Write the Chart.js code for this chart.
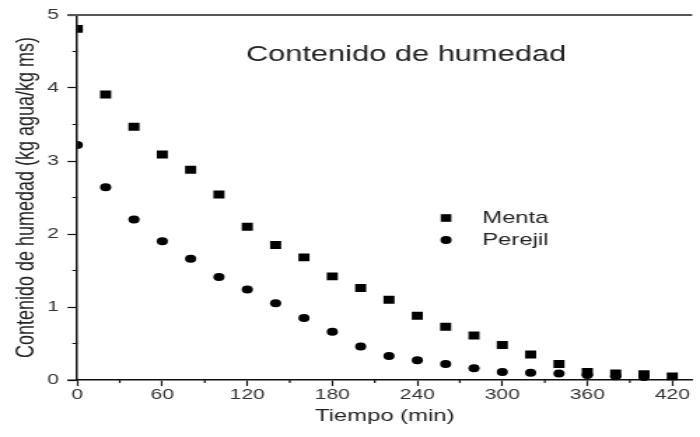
<!DOCTYPE html>
<html>
<head>
<meta charset="utf-8">
<script src="https://cdn.jsdelivr.net/npm/chart.js@4.4.1/dist/chart.umd.min.js"></script>
<style>
  html, body { margin: 0; padding: 0; background: #fff; overflow: hidden; }
  /* the original figure is stretched sideways, so draw narrow and widen */
  #wrap { width: 500px; height: 437px; transform: scaleX(1.4); transform-origin: 0 0; }
</style>
</head>
<body>
<div id="wrap"><canvas id="chart" width="500" height="437"></canvas></div>
<script>
const tiempo = [0, 20, 40, 60, 80, 100, 120, 140, 160, 180, 200, 220, 240, 260, 280, 300, 320, 340, 360, 380, 400, 420]
const menta = [4.81, 3.91, 3.47, 3.09, 2.88, 2.54, 2.10, 1.85, 1.68, 1.42, 1.26, 1.10, 0.88, 0.73, 0.61, 0.48, 0.35, 0.22, 0.11, 0.09, 0.08, 0.05]
const perejil = [3.22, 2.64, 2.20, 1.90, 1.66, 1.41, 1.24, 1.05, 0.85, 0.66, 0.46, 0.33, 0.27, 0.22, 0.16, 0.11, 0.10, 0.09, 0.07, 0.05, 0.04]
const xTicks = [0, 60, 120, 180, 240, 300, 360, 420]
const xMinor = [30, 90, 150, 210, 270, 330, 390]
const yTicks = [0, 1, 2, 3, 4, 5]
const yMinor = [0.5, 1.5, 2.5, 3.5, 4.5]

const FONT = '"Liberation Sans", Arial, sans-serif'
const INK = '#222'

// extra ticks, frame line, title and the in-plot legend
const decor = {
  id: 'decor',
  afterDraw(chart) {
    const { ctx, chartArea: a, scales: { x, y } } = chart
    ctx.save()
    ctx.strokeStyle = '#111'
    ctx.lineWidth = 1.2
    ctx.beginPath()
    xMinor.forEach(v => {
      const px = x.getPixelForValue(v)
      ctx.moveTo(px, a.bottom)
      ctx.lineTo(px, a.bottom + 3)
    })
    yMinor.forEach(v => {
      const py = y.getPixelForValue(v)
      ctx.moveTo(a.left, py)
      ctx.lineTo(a.left - 3.5, py)
    })
    // x axis runs a little past the origin
    ctx.moveTo(a.left - 7, a.bottom)
    ctx.lineTo(a.left, a.bottom)
    ctx.stroke()

    ctx.strokeStyle = '#555'
    ctx.lineWidth = 2
    ctx.beginPath()
    ctx.moveTo(a.left - 7, a.top)
    ctx.lineTo(a.right, a.top)
    ctx.stroke()

    ctx.fillStyle = INK
    ctx.textBaseline = 'middle'
    ctx.textAlign = 'center'
    ctx.font = '22px ' + FONT
    ctx.fillText('Contenido de humedad', 290, 55)

    ctx.textAlign = 'left'
    ctx.font = '17px ' + FONT
    ctx.fillStyle = '#000'
    ctx.fillRect(318.6 - 3.8, 218 - 3.8, 7.6, 7.6)
    ctx.beginPath()
    ctx.arc(318.6, 240, 4, 0, Math.PI * 2)
    ctx.fill()
    ctx.fillStyle = INK
    ctx.fillText('Menta', 344.5, 218)
    ctx.fillText('Perejil', 344.5, 240)
    ctx.restore()
  }
}

new Chart(document.getElementById('chart').getContext('2d'), {
  type: 'scatter',
  data: {
    datasets: [
      {
        label: 'Menta',
        data: tiempo.map((t, i) => ({ x: t, y: menta[i] })),
        pointStyle: 'rect',
        pointRadius: 5.6,
        backgroundColor: '#000',
        borderColor: '#000',
        borderWidth: 0,
        clip: { left: 0, top: false, right: false, bottom: false }
      },
      {
        label: 'Perejil',
        data: perejil.map((v, i) => ({ x: tiempo[i], y: v })),
        pointStyle: 'circle',
        pointRadius: 4,
        backgroundColor: '#000',
        borderColor: '#000',
        borderWidth: 0,
        clip: { left: 0, top: false, right: false, bottom: false }
      }
    ]
  },
  options: {
    responsive: false,
    animation: false,
    layout: { padding: { top: 15, right: 0, left: 0, bottom: 0 } },
    plugins: { legend: { display: false }, tooltip: { enabled: false } },
    scales: {
      x: {
        type: 'linear',
        min: 0,
        max: 434,
        afterBuildTicks: s => { s.ticks = xTicks.map(v => ({ value: v })) },
        afterFit: s => { s.height = 57 },
        grid: { drawOnChartArea: false, drawTicks: true, tickLength: 6, color: '#111', tickWidth: 1.2 },
        border: { display: true, color: '#111', width: 1.5 },
        ticks: { color: '#333', padding: 1, maxRotation: 0, font: { family: FONT, size: 15, lineHeight: 1 } },
        title: { display: true, text: 'Tiempo (min)', color: INK, padding: { top: 0, bottom: 10 }, font: { family: FONT, size: 17 } }
      },
      y: {
        min: 0,
        max: 5,
        afterBuildTicks: s => { s.ticks = yTicks.map(v => ({ value: v })) },
        afterFit: s => { s.width = 55.2; s.paddingTop = 0; s.paddingBottom = 0 },
        grid: { drawOnChartArea: false, drawTicks: true, tickLength: 7, color: '#111', tickWidth: 1.2 },
        border: { display: true, color: '#111', width: 1.5 },
        ticks: { color: '#333', padding: 6, font: { family: FONT, size: 15, lineHeight: 1 } },
        title: { display: true, text: 'Contenido de humedad (kg agua/kg ms)', color: INK, padding: { top: 8, bottom: 0 }, font: { family: FONT, size: 18 } }
      }
    }
  },
  plugins: [decor]
})
</script>
</body>
</html>
